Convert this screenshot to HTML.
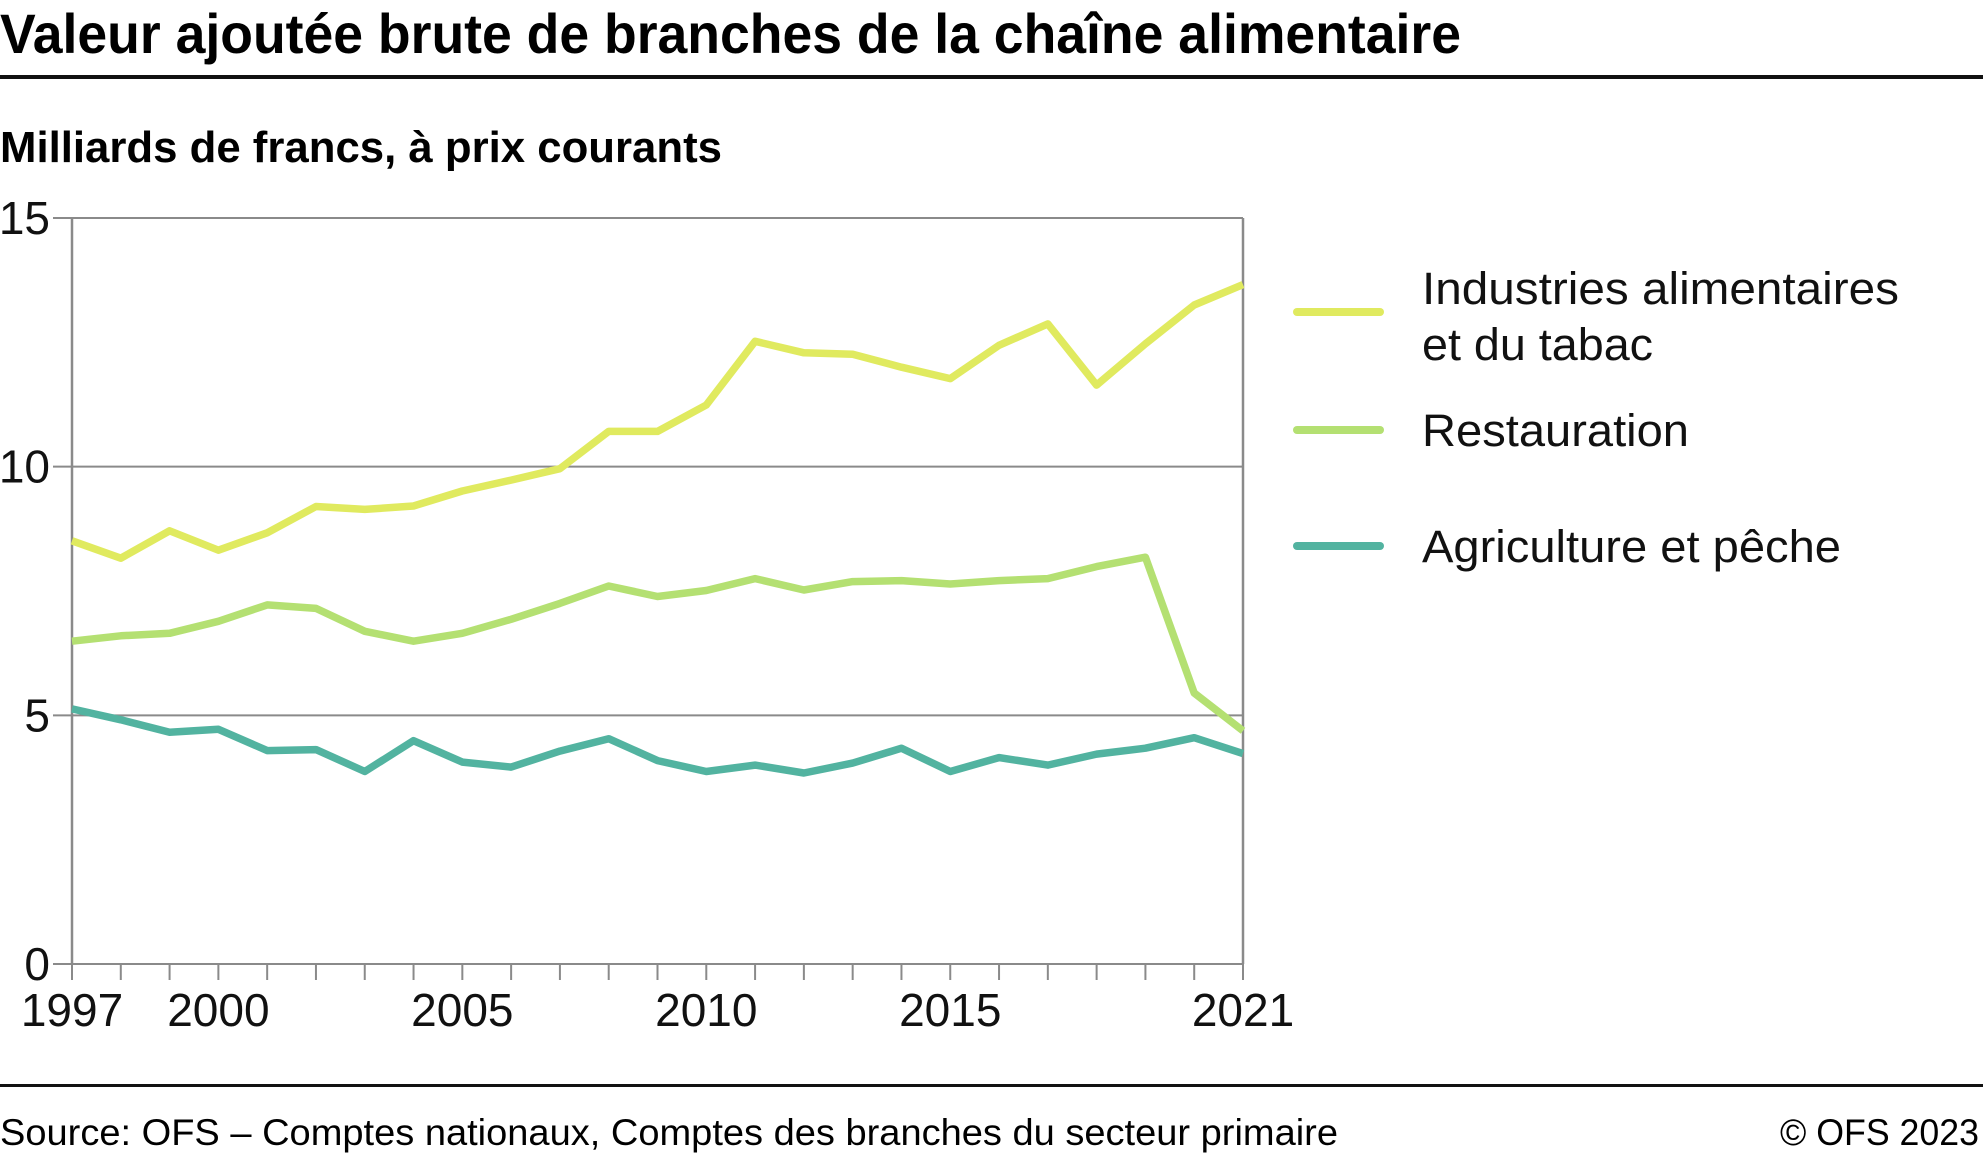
<!DOCTYPE html>
<html><head><meta charset="utf-8"><style>
html,body{margin:0;padding:0;background:#fff;}
svg{display:block;font-family:"Liberation Sans",sans-serif;}
</style></head><body>
<svg id="chart" width="1983" height="1161" viewBox="0 0 1983 1161" xmlns="http://www.w3.org/2000/svg">
<text x="0" y="53" font-size="56" font-weight="bold" textLength="1461" lengthAdjust="spacingAndGlyphs">Valeur ajoutée brute de branches de la chaîne alimentaire</text>
<rect x="0" y="75" width="1983" height="4" fill="#111"/>
<text x="0" y="162" font-size="44" font-weight="bold" textLength="722" lengthAdjust="spacingAndGlyphs">Milliards de francs, à prix courants</text>
<g id="grid"></g>
<g id="series"></g>
<g id="legend"></g>
<rect x="0" y="1084" width="1983" height="3" fill="#111"/>
<text x="0" y="1145" font-size="37" textLength="1338" lengthAdjust="spacingAndGlyphs">Source: OFS – Comptes nationaux, Comptes des branches du secteur primaire</text>
<text x="1979" y="1145" font-size="37" text-anchor="end" textLength="199" lengthAdjust="spacingAndGlyphs">© OFS 2023</text>
</svg>
<script>
const years = [1997,1998,1999,2000,2001,2002,2003,2004,2005,2006,2007,2008,2009,2010,2011,2012,2013,2014,2015,2016,2017,2018,2019,2020,2021];
const industries = [8.51,8.16,8.71,8.32,8.67,9.20,9.14,9.21,9.51,9.73,9.96,10.71,10.71,11.24,12.52,12.29,12.26,12.00,11.77,12.44,12.87,11.64,12.47,13.25,13.66];
const restauration = [6.49,6.60,6.65,6.89,7.22,7.15,6.69,6.49,6.65,6.93,7.25,7.60,7.39,7.51,7.75,7.52,7.69,7.71,7.64,7.71,7.75,7.99,8.18,5.45,4.69];
const agriculture = [5.13,4.91,4.66,4.72,4.29,4.31,3.87,4.49,4.06,3.96,4.28,4.53,4.09,3.87,4.00,3.84,4.04,4.34,3.87,4.15,4.00,4.22,4.34,4.55,4.23];
const yTicks = [0,5,10,15];
const xLabels = [1997,2000,2005,2010,2015,2021];
const seriesNames = ["Industries alimentaires|et du tabac","Restauration","Agriculture et pêche"];

const NS="http://www.w3.org/2000/svg";
const X0=72,X1=1243,Y0=964,Y1=218,YMAX=15;
function xs(yr){return X0+(yr-years[0])/(years[years.length-1]-years[0])*(X1-X0);}
function ys(v){return Y0-v/YMAX*(Y0-Y1);}
function mk(tag,parent,attrs){const e=document.createElementNS(NS,tag);for(const k in attrs)e.setAttribute(k,attrs[k]);parent.appendChild(e);return e;}
const grid=document.getElementById('grid');
yTicks.forEach(t=>{
  const l=mk('line',grid,{x1:53,x2:X1,y1:ys(t),y2:ys(t),stroke:'#8a8a8a','stroke-width':2});
  
  
  const tx=mk('text',grid,{x:50,y:ys(t)+16,'font-size':46,'text-anchor':'end',fill:'#111'});
  tx.textContent=t;
  
  
});
const ax=mk('line',grid,{x1:X0,x2:X0,y1:Y1,y2:Y0,stroke:'#8a8a8a','stroke-width':2.5});


const rb=mk('line',grid,{x1:X1,x2:X1,y1:Y1,y2:Y0,stroke:'#8a8a8a','stroke-width':2.5});


years.forEach(yr=>{
  const t=mk('line',grid,{x1:xs(yr),x2:xs(yr),y1:Y0,y2:Y0+16,stroke:'#8a8a8a','stroke-width':2});
  
  
});
xLabels.forEach(yr=>{
  const tx=mk('text',grid,{x:xs(yr),y:1026,'font-size':46,'text-anchor':'middle',fill:'#111'});
  tx.textContent=yr;
  
  
});
const sg=document.getElementById('series');
const lg=document.getElementById('legend');
const all=[industries,restauration,agriculture];
const colors=['#e0ea5f','#b4e072','#52b3a0'];
const names=['line-industries','line-restauration','line-agriculture'];
const legY=[312,430,546];
const legW=[[477,231],[267],[419]];
all.forEach((arr,i)=>{
  const d=arr.map((v,j)=>(j?'L':'M')+xs(years[j]).toFixed(1)+','+ys(v).toFixed(1)).join('');
  const p=mk('path',sg,{d:d,fill:'none',stroke:colors[i],'stroke-width':7.5,'stroke-linejoin':'round'});
  
  
  const ll=mk('line',lg,{x1:1297,x2:1380,y1:legY[i],y2:legY[i],stroke:colors[i],'stroke-width':8,'stroke-linecap':'round'});
  
  
  const parts=seriesNames[i].split('|');
  parts.forEach((s,k)=>{
    const tx=mk('text',lg,{x:1422,y:(parts.length>1?legY[i]-8:legY[i]+16)+k*56,'font-size':45,fill:'#111',textLength:legW[i][k],lengthAdjust:'spacingAndGlyphs'});
    tx.textContent=s;
    
    
  });
});
</script>
</body></html>
